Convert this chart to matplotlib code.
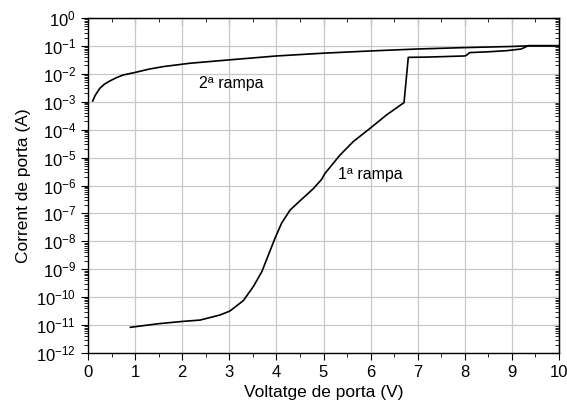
import matplotlib.pyplot as plt
import numpy as np
from matplotlib.ticker import LogLocator, MultipleLocator, NullFormatter

plt.rcParams['font.family'] = ['Liberation Sans', 'DejaVu Sans']
plt.rcParams['mathtext.fontset'] = 'custom'
plt.rcParams['mathtext.rm'] = 'Liberation Sans'
plt.rcParams['mathtext.it'] = 'Liberation Sans'

# 2a rampa (voltage, log10 current)
v2 = [0.1, 0.15, 0.25, 0.35, 0.47, 0.6, 0.75, 1.0, 1.3, 1.6, 2.17, 3.0, 4.0,
      5.0, 6.0, 7.0, 8.0, 9.0, 9.3, 10.0]
logi2 = [-2.97, -2.78, -2.52, -2.37, -2.25, -2.14, -2.04, -1.95, -1.83, -1.74,
         -1.62, -1.5, -1.36, -1.26, -1.18, -1.11, -1.06, -1.02, -1.0, -1.0]

# 1a rampa
v1 = [0.9, 1.5, 2.0, 2.38, 2.8, 3.01, 3.3, 3.51, 3.69, 3.83, 3.97, 4.11, 4.29,
      4.5, 4.78, 4.96, 5.03, 5.35, 5.63, 5.99, 6.34, 6.71, 6.8, 7.2, 7.6,
      8.0, 8.04, 8.1, 8.5, 8.89, 9.2, 9.35, 10.0]
logi1 = [-11.08, -10.95, -10.87, -10.82, -10.64, -10.5, -10.12, -9.62, -9.09,
         -8.49, -7.89, -7.35, -6.88, -6.55, -6.12, -5.78, -5.57, -4.91, -4.43,
         -3.95, -3.47, -3.03, -1.41, -1.40, -1.38, -1.36, -1.33, -1.24, -1.21,
         -1.17, -1.11, -0.99, -0.99]

fig = plt.figure(figsize=(5.67, 4.12), dpi=100)
ax = fig.add_axes([88 / 567, 1 - 353 / 412, 471 / 567, 335 / 412])

ax.plot(v2, 10 ** np.array(logi2), color='black', lw=1.2)
ax.plot(v1, 10 ** np.array(logi1), color='black', lw=1.2)

ax.set_yscale('log')
ax.set_xlim(0, 10)
ax.set_ylim(1e-12, 1)
ax.xaxis.set_major_locator(MultipleLocator(1))
ax.xaxis.set_minor_locator(MultipleLocator(0.5))
ax.yaxis.set_major_locator(LogLocator(base=10, numticks=20))
ax.yaxis.set_minor_locator(LogLocator(base=10, subs=np.arange(2, 10), numticks=20))
ax.yaxis.set_minor_formatter(NullFormatter())
ax.set_yticks([10.0 ** k for k in range(-12, 1)])
ax.set_yticklabels([r'$\mathregular{10^{%d}}$' % k for k in range(-12, 1)])

ax.grid(True, which='major', color='#c8c8c8', lw=0.9)
ax.set_axisbelow(True)

ax.tick_params(which='both', labelsize=12)
ax.tick_params(axis='x', which='major', direction='out', length=5)
ax.tick_params(axis='x', which='minor', direction='out', length=3)
ax.tick_params(axis='y', which='major', direction='out', length=5)
ax.tick_params(axis='y', which='minor', direction='out', length=3)

# mirrored ticks pointing inward on top and right
axt = ax.secondary_xaxis('top')
axt.xaxis.set_major_locator(MultipleLocator(1))
axt.xaxis.set_minor_locator(MultipleLocator(0.5))
axt.tick_params(which='major', direction='in', length=5, labeltop=False)
axt.tick_params(which='minor', direction='in', length=3)
axr = ax.secondary_yaxis('right')
axr.set_yscale('log')
axr.yaxis.set_major_locator(LogLocator(base=10, numticks=20))
axr.yaxis.set_minor_locator(LogLocator(base=10, subs=np.arange(2, 10), numticks=20))
axr.tick_params(which='major', direction='in', length=5, labelright=False)
axr.tick_params(which='minor', direction='in', length=3, labelright=False)
for s in ax.spines.values():
    s.set_linewidth(1.0)

ax.set_xlabel('Voltatge de porta (V)', fontsize=12.5)
ax.set_ylabel('Corrent de porta (A)', fontsize=12.5)

ax.text(2.35, 10 ** -2.35, 'ª'.join(['2', ' rampa']), fontsize=11.5, va='center')
ax.text(5.3, 10 ** -5.6, 'ª'.join(['1', ' rampa']), fontsize=11.5, va='center')

fig.savefig('out.png', dpi=100)
